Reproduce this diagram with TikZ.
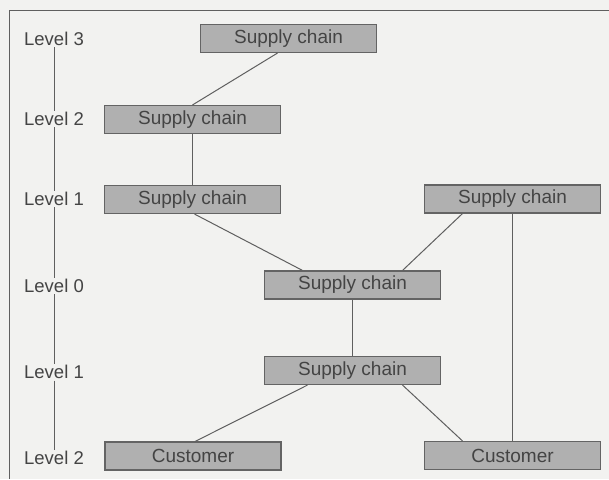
\documentclass[tikz,border=0pt]{standalone}
\usepackage{fontspec}
\setmainfont{Liberation Sans}
\definecolor{bg}{RGB}{242,242,240}
\definecolor{boxfill}{RGB}{176,176,176}
\definecolor{boxline}{RGB}{100,100,100}
\definecolor{txt}{RGB}{68,68,68}
\definecolor{ln}{RGB}{95,95,95}
\begin{document}
\begin{tikzpicture}[x=1pt,y=-1pt,
  chainbox/.style={draw=boxline,fill=boxfill,line width=1.1pt,minimum width=176pt,minimum height=28pt,inner sep=0pt,text=txt,font=\fontsize{19}{21}\selectfont},
  lvl/.style={text=txt,font=\fontsize{18.5}{20}\selectfont,inner sep=1.5pt},
  conn/.style={draw=ln,line width=1pt}]
\fill[bg] (0,0) rectangle (609,479);
\useasboundingbox (0,0) rectangle (609,479);
% frame
\draw[conn] (609,10) -- (9,10) -- (9,479);
% levels
\node[lvl] (lv3) at (54,39) {Level 3};
\node[lvl] (lv2) at (54,119) {Level 2};
\node[lvl] (lv1) at (54,199) {Level 1};
\node[lvl] (lv0) at (54,286) {Level 0};
\node[lvl] (lv1b) at (54,372) {Level 1};
\node[lvl] (lv2b) at (54,458) {Level 2};
\draw[conn] (lv3.south) -- (lv2.north);
\draw[conn] (lv2.south) -- (lv1.north);
\draw[conn] (lv1.south) -- (lv0.north);
\draw[conn] (lv0.south) -- (lv1b.north);
\draw[conn] (lv1b.south) -- (lv2b.north);
% boxes
\node[chainbox] (L3) at (288.5,38.5) {Supply chain};
\node[chainbox] (L2) at (192.5,119.5) {Supply chain};
\node[chainbox] (L1a) at (192.5,199.5) {Supply chain};
\node[chainbox] (L1b) at (512.5,199) {Supply chain};
\node[chainbox] (L0) at (352.5,285) {Supply chain};
\node[chainbox] (L1c) at (352.5,370.5) {Supply chain};
\node[chainbox] (CA) at (193,456) {Customer};
\node[chainbox] (CB) at (512.5,455.5) {Customer};
% connectors
\draw[conn] ([xshift=-11pt]L3.south) -- (L2.north);
\draw[conn] (L2.south) -- (L1a.north);
\draw[conn] ([xshift=2pt]L1a.south) -- ([xshift=-50pt]L0.north);
\draw[conn] ([xshift=-50pt]L1b.south) -- ([xshift=50pt]L0.north);
\draw[conn] (L1b.south) -- (CB.north);
\draw[conn] (L0.south) -- (L1c.north);
\draw[conn] ([xshift=-45pt]L1c.south) -- ([xshift=2pt]CA.north);
\draw[conn] ([xshift=50pt]L1c.south) -- ([xshift=-50pt]CB.north);
\end{tikzpicture}
\end{document}
